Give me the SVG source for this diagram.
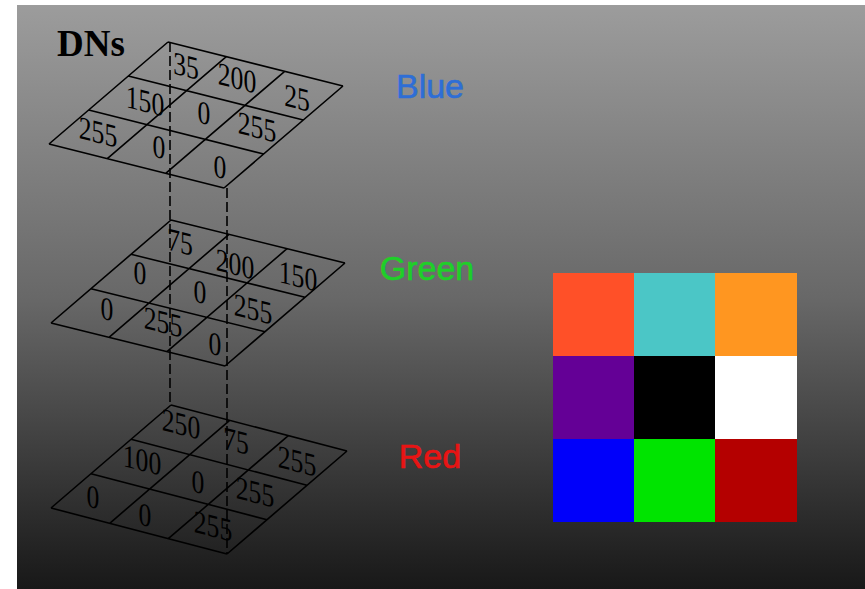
<svg xmlns="http://www.w3.org/2000/svg" width="865" height="589" viewBox="0 0 865 589">
<defs>
<linearGradient id="bg" x1="0" y1="0" x2="0" y2="1">
<stop offset="0" stop-color="#9c9c9c"/>
<stop offset="0.5" stop-color="#686868"/>
<stop offset="1" stop-color="#181818"/>
</linearGradient>
</defs>
<style>
.grid{fill:none;stroke:#000;stroke-width:1.6;stroke-linejoin:round}
.dash{fill:none;stroke:#000;stroke-width:1.6;stroke-dasharray:10 4}
.dn{font-family:"Liberation Serif","Times New Roman",serif;font-size:27px;fill:#000;text-anchor:middle}
.lab{font-family:"Liberation Sans",Arial,sans-serif;font-size:34px;text-anchor:middle;stroke-width:0.6}
.title{font-family:"Liberation Serif","Times New Roman",serif;font-size:37px;font-weight:bold;fill:#000}
</style>
<rect x="0" y="0" width="865" height="589" fill="#fff"/>
<rect x="17" y="5" width="848" height="584" fill="url(#bg)"/>

<g id="connectors">
<line class="dash" x1="170" y1="42" x2="170" y2="405"/>
<line class="dash" x1="227" y1="188" x2="227" y2="554"/>
</g>

<g id="title">
<text class="title" x="57" y="56">DNs</text>
</g>

<g id="layer-blue">
<path class="grid" d="M168,42L343,86M128.3,76L303.3,120M88.7,110L263.7,154M49,144L224,188M168,42L49,144M226.3,56.7L107.3,158.7M284.7,71.3L165.7,173.3M343,86L224,188"/>
<g class="dn">
<text transform="translate(186,66) skewY(14) scale(0.95,1.2) translate(0,9)">35</text>
<text transform="translate(237,78) skewY(14) scale(0.95,1.2) translate(0,9)">200</text>
<text transform="translate(297,98) skewY(14) scale(0.95,1.2) translate(0,9)">25</text>
<text transform="translate(145,101) skewY(14) scale(0.95,1.2) translate(0,9)">150</text>
<text transform="translate(204,113) skewY(14) scale(0.95,1.2) translate(0,9)">0</text>
<text transform="translate(257,127) skewY(14) scale(0.95,1.2) translate(0,9)">255</text>
<text transform="translate(98,132) skewY(14) scale(0.95,1.2) translate(0,9)">255</text>
<text transform="translate(159,147) skewY(14) scale(0.95,1.2) translate(0,9)">0</text>
<text transform="translate(220,167) skewY(14) scale(0.95,1.2) translate(0,9)">0</text>
</g>
</g>

<g id="layer-green">
<path class="grid" d="M171,220L345,263M131,254.3L305,297.3M91,288.7L265,331.7M51,323L225,366M171,220L51,323M229,234.3L109,337.3M287,248.7L167,351.7M345,263L225,366"/>
<g class="dn">
<text transform="translate(180,242) skewY(14) scale(0.95,1.2) translate(0,9)">75</text>
<text transform="translate(235,264) skewY(14) scale(0.95,1.2) translate(0,9)">200</text>
<text transform="translate(298,276) skewY(14) scale(0.95,1.2) translate(0,9)">150</text>
<text transform="translate(140,273) skewY(14) scale(0.95,1.2) translate(0,9)">0</text>
<text transform="translate(200,292) skewY(14) scale(0.95,1.2) translate(0,9)">0</text>
<text transform="translate(253,309) skewY(14) scale(0.95,1.2) translate(0,9)">255</text>
<text transform="translate(107,309) skewY(14) scale(0.95,1.2) translate(0,9)">0</text>
<text transform="translate(163,322) skewY(14) scale(0.95,1.2) translate(0,9)">255</text>
<text transform="translate(215,344) skewY(14) scale(0.95,1.2) translate(0,9)">0</text>
</g>
</g>

<g id="layer-red">
<path class="grid" d="M171,405L347,451M131,439.3L307,485.3M91,473.7L267,519.7M51,508L227,554M171,405L51,508M229.7,420.3L109.7,523.3M288.3,435.7L168.3,538.7M347,451L227,554"/>
<g class="dn">
<text transform="translate(181,424) skewY(14) scale(0.95,1.2) translate(0,9)">250</text>
<text transform="translate(236,441) skewY(14) scale(0.95,1.2) translate(0,9)">75</text>
<text transform="translate(297,461) skewY(14) scale(0.95,1.2) translate(0,9)">255</text>
<text transform="translate(142,460) skewY(14) scale(0.95,1.2) translate(0,9)">100</text>
<text transform="translate(198,482) skewY(14) scale(0.95,1.2) translate(0,9)">0</text>
<text transform="translate(255,492) skewY(14) scale(0.95,1.2) translate(0,9)">255</text>
<text transform="translate(93,497) skewY(14) scale(0.95,1.2) translate(0,9)">0</text>
<text transform="translate(145,515) skewY(14) scale(0.95,1.2) translate(0,9)">0</text>
<text transform="translate(213,526) skewY(14) scale(0.95,1.2) translate(0,9)">255</text>
</g>
</g>

<g id="labels">
<text class="lab" x="430" y="98" fill="#2e6ed6" stroke="#2e6ed6">Blue</text>
<text class="lab" x="427" y="280" fill="#1ecf28" stroke="#1ecf28">Green</text>
<text class="lab" x="430" y="468" fill="#e81414" stroke="#e81414">Red</text>
</g>

<g id="composite">
<rect x="553" y="273" width="81" height="83" fill="#ff5028"/>
<rect x="634" y="273" width="81" height="83" fill="#4bc6c6"/>
<rect x="715" y="273" width="82" height="83" fill="#ff9620"/>
<rect x="553" y="356" width="81" height="83" fill="#640096"/>
<rect x="634" y="356" width="81" height="83" fill="#000000"/>
<rect x="715" y="356" width="82" height="83" fill="#ffffff"/>
<rect x="553" y="439" width="81" height="83" fill="#0000fa"/>
<rect x="634" y="439" width="81" height="83" fill="#00e400"/>
<rect x="715" y="439" width="82" height="83" fill="#b40000"/>
</g>
</svg>
